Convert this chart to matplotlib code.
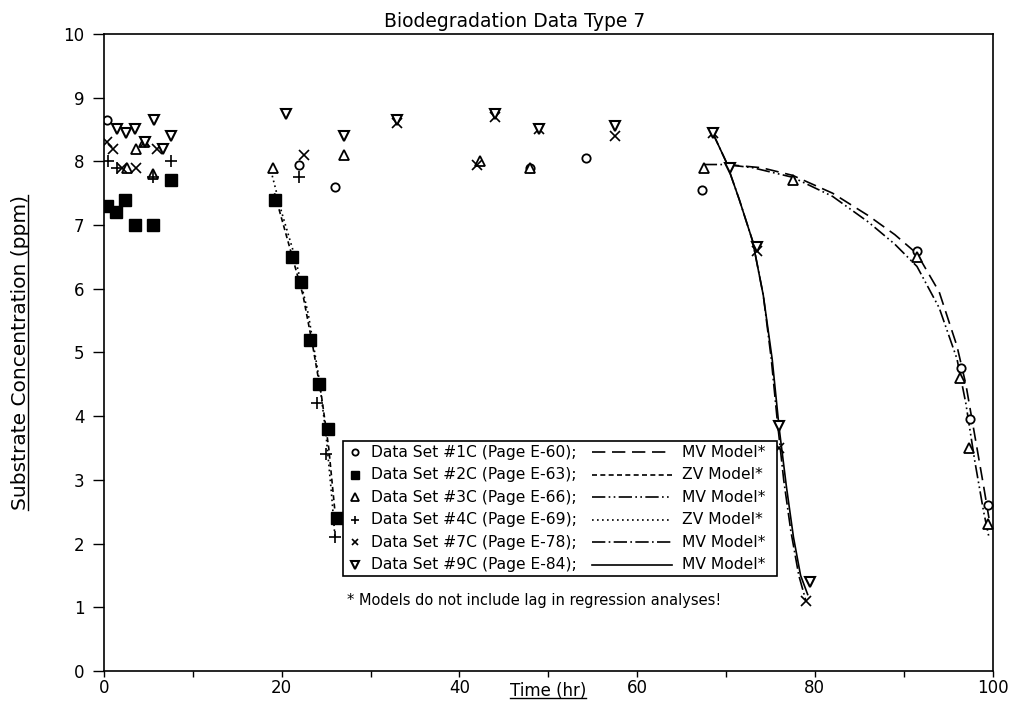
import matplotlib
matplotlib.use("Agg")
import matplotlib.pyplot as plt
from matplotlib.patches import Rectangle
from matplotlib.lines import Line2D

plt.rcParams['font.family'] = ['DejaVu Sans']

t1 = [0.3, 22.0, 26.0, 48.0, 54.3, 67.3, 91.5, 96.5, 97.5, 99.5]
c1 = [8.65, 7.95, 7.6, 7.9, 8.05, 7.55, 6.6, 4.75, 3.95, 2.6]

t2 = [0.4, 1.4, 2.4, 3.5, 5.5, 7.6, 19.2, 21.2, 22.2, 23.2, 24.2, 25.2, 26.2]
c2 = [7.3, 7.2, 7.4, 7.0, 7.0, 7.7, 7.4, 6.5, 6.1, 5.2, 4.5, 3.8, 2.4]

t3 = [2.6, 3.6, 4.5, 5.5, 19.0, 27.0, 42.3, 48.0, 67.5, 77.5, 91.5, 96.3, 97.3, 99.5]
c3 = [7.9, 8.2, 8.3, 7.8, 7.9, 8.1, 8.0, 7.9, 7.9, 7.7, 6.5, 4.6, 3.5, 2.3]

t4 = [0.5, 1.5, 5.5, 7.5, 22.0, 24.0, 25.0, 26.0]
c4 = [8.0, 7.9, 7.75, 8.0, 7.75, 4.2, 3.4, 2.1]

t7 = [0.4, 1.0, 2.0, 3.6, 4.6, 6.0, 22.5, 33.0, 42.0, 44.0, 49.0, 57.5, 68.5, 73.5, 76.0, 79.0]
c7 = [8.3, 8.2, 7.9, 7.9, 8.3, 8.2, 8.1, 8.6, 7.95, 8.7, 8.5, 8.4, 8.45, 6.6, 3.5, 1.1]

t9 = [1.5, 2.5, 3.5, 4.6, 5.6, 6.6, 7.6, 20.5, 27.0, 33.0, 44.0, 49.0, 57.5, 68.5, 70.5, 73.5, 76.0, 79.5]
c9 = [8.5, 8.45, 8.5, 8.3, 8.65, 8.2, 8.4, 8.75, 8.4, 8.65, 8.75, 8.5, 8.55, 8.45, 7.9, 6.65, 3.85, 1.4]

# ---- model curves ----
m1_t = [70.0, 74.0, 77.5, 82.0, 86.0, 89.0, 91.5, 94.0, 96.0, 97.0, 98.0, 99.0, 99.6]
m1_c = [7.95, 7.9, 7.78, 7.5, 7.15, 6.85, 6.55, 5.95, 5.1, 4.5, 3.7, 2.9, 2.4]

m2_t = [19.2, 20.2, 21.2, 22.4, 23.5, 24.5, 25.3, 26.0]
m2_c = [7.5, 7.0, 6.5, 5.9, 5.1, 4.3, 3.5, 2.5]

m3_t = [67.5, 70.0, 73.0, 77.5, 82.0, 86.0, 89.0, 91.5, 94.0, 96.0, 97.0, 98.0, 99.0, 99.6]
m3_c = [7.95, 7.95, 7.9, 7.75, 7.45, 7.05, 6.7, 6.35, 5.7, 4.9, 4.2, 3.3, 2.5, 2.1]

m4_t = [18.8, 20.0, 21.5, 23.0, 24.2, 25.0, 25.6, 26.0]
m4_c = [7.85, 7.2, 6.5, 5.6, 4.6, 3.7, 2.8, 2.1]

m7_t = [68.5, 70.0, 71.5, 73.0, 74.2, 75.1, 75.8, 76.5, 77.3, 78.2, 79.0]
m7_c = [8.45, 8.0, 7.4, 6.75, 5.9, 4.9, 3.9, 3.0, 2.2, 1.5, 1.1]

m9_t = [68.5, 70.0, 71.5, 73.0, 74.2, 75.2, 76.0, 76.8, 77.6, 78.4, 79.2]
m9_c = [8.45, 8.0, 7.4, 6.75, 5.9, 4.9, 3.8, 2.9, 2.1, 1.5, 1.2]

legend_sets = ["Data Set #1C (Page E-60);", "Data Set #2C (Page E-63);",
               "Data Set #3C (Page E-66);", "Data Set #4C (Page E-69);",
               "Data Set #7C (Page E-78);", "Data Set #9C (Page E-84);"]
legend_models = ["MV Model*", "ZV Model*", "MV Model*", "ZV Model*", "MV Model*", "MV Model*"]

fig = plt.figure(figsize=(10.19, 7.07), dpi=100)
ax = fig.add_axes([0.102, 0.051, 0.872, 0.901])

styles = [
    dict(marker='o', ms=6, mfc='white', mec='black', mew=1.3),
    dict(marker='s', ms=8, mfc='black', mec='black', mew=1.0),
    dict(marker='^', ms=7.5, mfc='white', mec='black', mew=1.3),
    dict(marker='+', ms=8, mfc='black', mec='black', mew=1.2),
    dict(marker='x', ms=6.5, mfc='black', mec='black', mew=1.2),
    dict(marker='v', ms=7.5, mfc='white', mec='black', mew=1.5),
]
lstyles = [(0, (8, 4)), (0, (3, 2)), (0, (8, 2, 1, 2, 1, 2)), (0, (1, 2)),
           (0, (8, 2, 1, 2)), '-']

models = [(m1_t, m1_c), (m2_t, m2_c), (m3_t, m3_c), (m4_t, m4_c), (m7_t, m7_c), (m9_t, m9_c)]
for (mt, mc), ls in zip(models, lstyles):
    ax.plot(mt, mc, color='black', lw=1.2, linestyle=ls)

data = [(t1, c1), (t2, c2), (t3, c3), (t4, c4), (t7, c7), (t9, c9)]
for (t, c), st in zip(data, styles):
    ax.plot(t, c, linestyle='none', **st)

ax.set_xlim(0, 100)
ax.set_ylim(0, 10)
ax.set_xticks(range(0, 101, 20))
ax.set_xticks(range(10, 100, 20), minor=True)
ax.set_yticks(range(0, 11))
ax.tick_params(axis='both', which='both', direction='out', width=1, labelsize=12)
ax.tick_params(axis='y', length=8, pad=6)
ax.tick_params(axis='x', which='major', length=4, pad=2)
ax.tick_params(axis='x', which='minor', length=4)
for sp in ax.spines.values():
    sp.set_linewidth(1.2)

ax.set_title("Biodegradation Data Type 7", fontsize=13.5, pad=5, x=0.462)
xl = ax.set_xlabel("Time (hr)", fontsize=12)
ax.xaxis.set_label_coords(0.5, -0.018)
yl = ax.set_ylabel("Substrate Concentration (ppm)", fontsize=14.5)
ax.yaxis.set_label_coords(-0.083, 0.5)

# ---- legend box drawn by hand ----
bx0, bx1, by0, by1 = 0.269, 0.757, 0.149, 0.361
ax.add_patch(Rectangle((bx0, by0), bx1 - bx0, by1 - by0, transform=ax.transAxes,
                       facecolor='white', edgecolor='black', lw=1.2, zorder=5))
rowh = (by1 - by0) / 6
for i in range(6):
    yy = by1 - (i + 0.5) * rowh
    ax.add_line(Line2D([0.282], [yy], transform=ax.transAxes, linestyle='none',
                       zorder=6, **dict(styles[i], ms=styles[i]['ms'] * 0.75)))
    ax.text(0.301, yy, legend_sets[i], transform=ax.transAxes, fontsize=11.2,
            va='center', ha='left', zorder=6)
    ax.add_line(Line2D([0.549, 0.639], [yy, yy], transform=ax.transAxes, color='black',
                       lw=1.2, linestyle=lstyles[i], zorder=6))
    ax.text(0.651, yy, legend_models[i], transform=ax.transAxes, fontsize=11.2,
            va='center', ha='left', zorder=6)
ax.text(0.274, 0.111, "* Models do not include lag in regression analyses!",
        transform=ax.transAxes, fontsize=10.5, va='center', ha='left')

# underline the axis labels
fig.canvas.draw()
r = fig.canvas.get_renderer()
inv = fig.transFigure.inverted()
bb = xl.get_window_extent(r).transformed(inv)
fig.add_artist(Line2D([bb.x0, bb.x1], [bb.y0 + 0.003, bb.y0 + 0.003], color='black', lw=1))
bb = yl.get_window_extent(r).transformed(inv)
fig.add_artist(Line2D([bb.x1 - 0.002, bb.x1 - 0.002], [bb.y0, bb.y1], color='black', lw=1))

fig.savefig("out.png", dpi=100)
